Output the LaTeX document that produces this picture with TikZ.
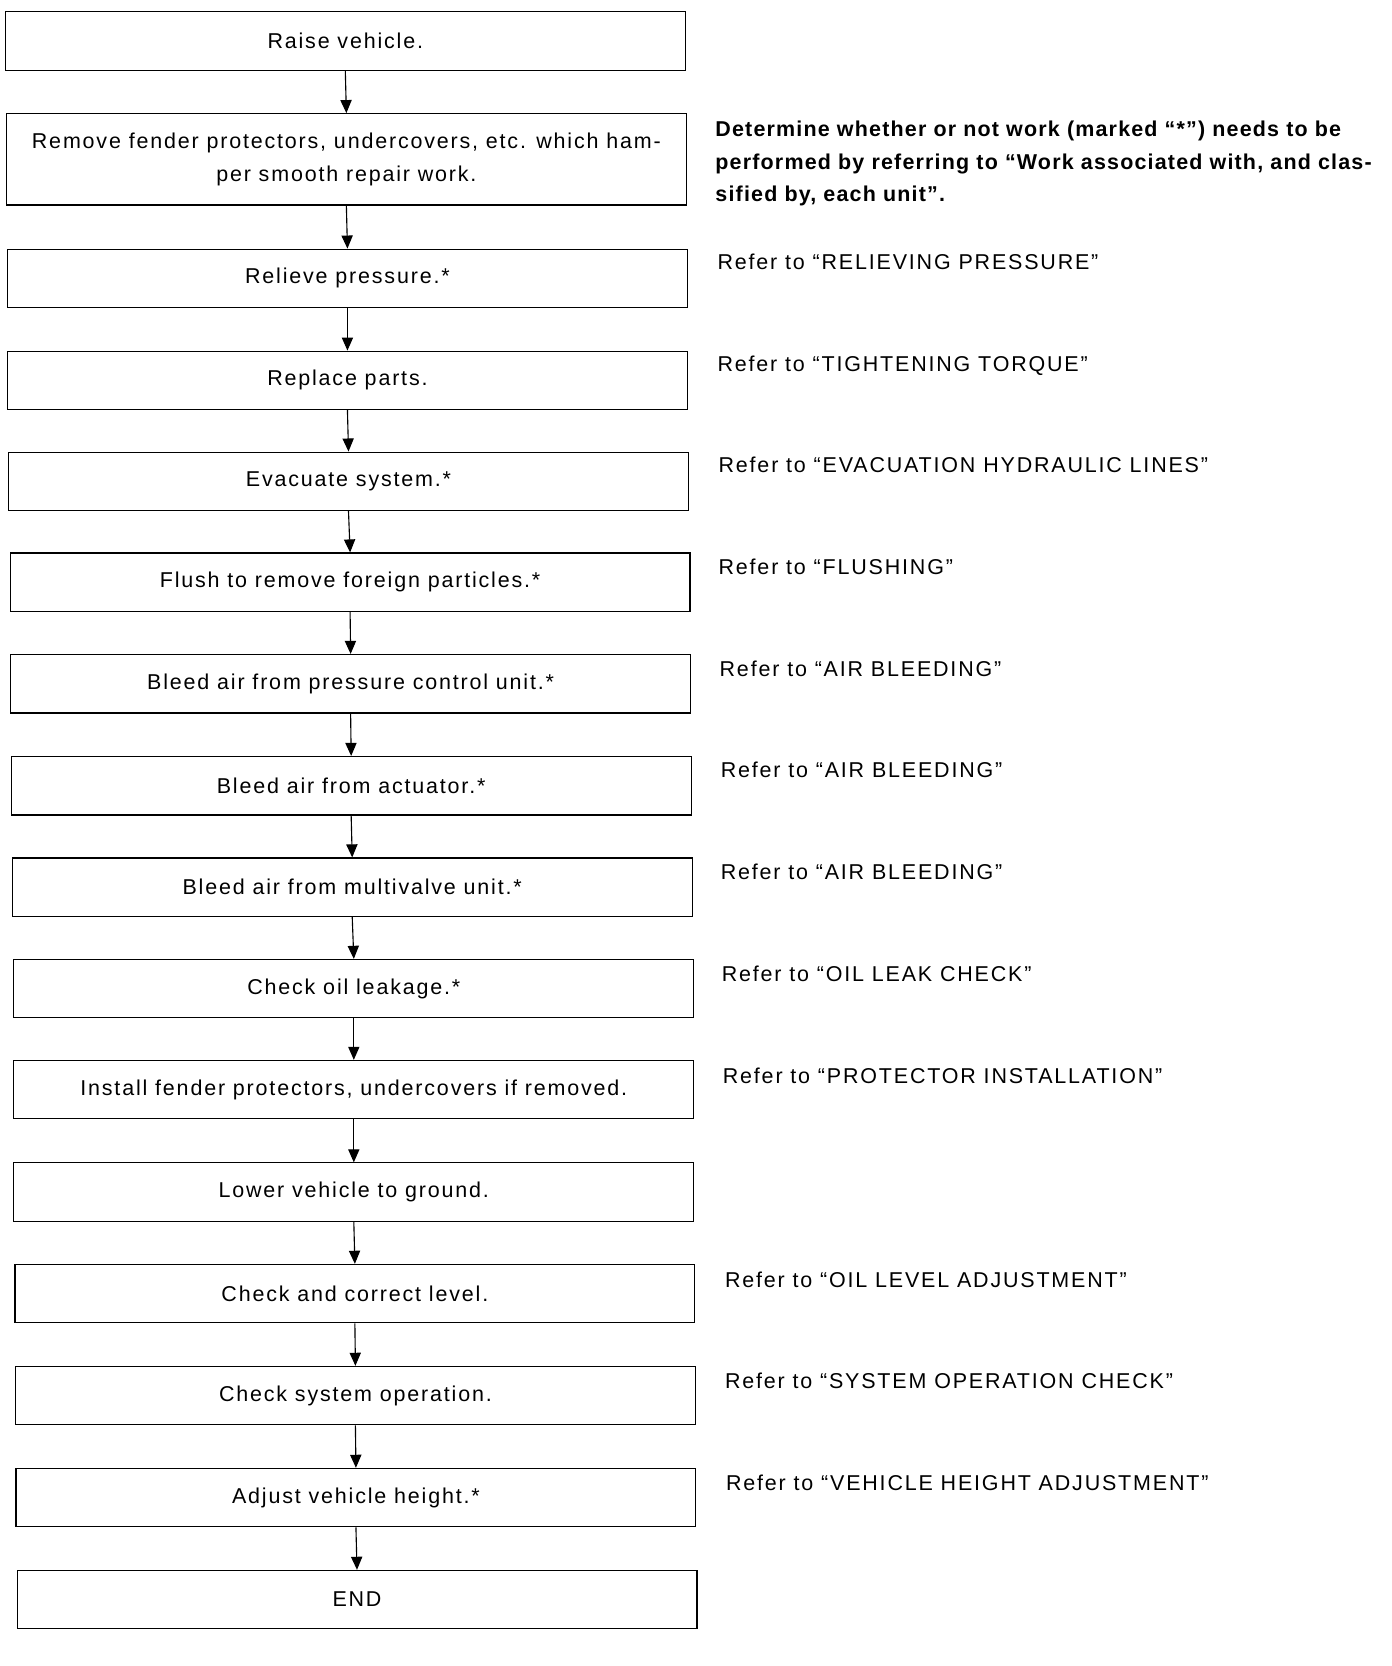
\documentclass[tikz,border=0pt]{standalone}
\usepackage{fontspec}
\setmainfont{Liberation Sans}[LetterSpace=8.5, BoldFeatures={LetterSpace=5.5}]
\usetikzlibrary{arrows.meta,positioning}

\begin{document}
\begin{tikzpicture}[
          x=0.02cm, y=-0.02cm,
          stepbox/.style={draw, line width=0.6pt, minimum width=12.8cm, minimum height=1.1cm,
            inner sep=0pt, align=center, font=\fontsize{11.5}{17.6}\selectfont},
          refnote/.style={anchor=base west, inner sep=0pt, align=left, font=\fontsize{11.5}{17.6}\selectfont},
          flow/.style={-{Triangle[width=6pt,length=7pt]}, line width=0.6pt}
      ]
        \useasboundingbox (0,0) rectangle (1310,1568);
        \node[stepbox] (b1) at (325,38.5) {Raise vehicle.};
        \node[stepbox, minimum height=1.72cm] (b2) at (326,150) {Remove fender protectors, undercovers, etc. which ham-\\per smooth repair work.};
        \node[stepbox] (b3) at (327,262) {Relieve pressure.*};
        \node[stepbox] (b4) at (327,358) {Replace parts.};
        \node[stepbox] (b5) at (328,453) {Evacuate system.*};
        \node[stepbox] (b6) at (329.5,548) {Flush to remove foreign particles.*};
        \node[stepbox] (b7) at (330,643.5) {Bleed air from pressure control unit.*};
        \node[stepbox] (b8) at (330.5,739.5) {Bleed air from actuator.*};
        \node[stepbox] (b9) at (331.5,835) {Bleed air from multivalve unit.*};
        \node[stepbox] (b10) at (333,930.5) {Check oil leakage.*};
        \node[stepbox] (b11) at (333,1025.5) {Install fender protectors, undercovers if removed.};
        \node[stepbox] (b12) at (333,1122) {Lower vehicle to ground.};
        \node[stepbox] (b13) at (334,1217.5) {Check and correct level.};
        \node[stepbox] (b14) at (334.5,1313.5) {Check system operation.};
        \node[stepbox] (b15) at (335,1409.5) {Adjust vehicle height.*};
        \node[stepbox] (b16) at (336,1505.5) {END};
        \foreach \i [remember=\i as \prev (initially 1)] in {2,...,16}
          \draw[flow] (b\prev.south) -- (b\i.north);
        \node[refnote, font=\fontsize{11.5}{17.6}\selectfont\bfseries] (r2) at (673,190)
          {Determine whether or not work (marked “*”) needs to be\\performed by referring to “Work associated with, and clas-\\sified by, each unit”.};
        \node[refnote] (r3) at (675,254) {Refer to “RELIEVING PRESSURE”};
        \node[refnote] (r4) at (675,350) {Refer to “TIGHTENING TORQUE”};
        \node[refnote] (r5) at (676,445) {Refer to “EVACUATION HYDRAULIC LINES”};
        \node[refnote] (r6) at (676,541) {Refer to “FLUSHING”};
        \node[refnote] (r7) at (677,637) {Refer to “AIR BLEEDING”};
        \node[refnote] (r8) at (678,732) {Refer to “AIR BLEEDING”};
        \node[refnote] (r9) at (678,828) {Refer to “AIR BLEEDING”};
        \node[refnote] (r10) at (679,924) {Refer to “OIL LEAK CHECK”};
        \node[refnote] (r11) at (680,1020) {Refer to “PROTECTOR INSTALLATION”};
        \node[refnote] (r13) at (682,1212) {Refer to “OIL LEVEL ADJUSTMENT”};
        \node[refnote] (r14) at (682,1307) {Refer to “SYSTEM OPERATION CHECK”};
        \node[refnote] (r15) at (683,1403) {Refer to “VEHICLE HEIGHT ADJUSTMENT”};
      \end{tikzpicture}
\end{document}
